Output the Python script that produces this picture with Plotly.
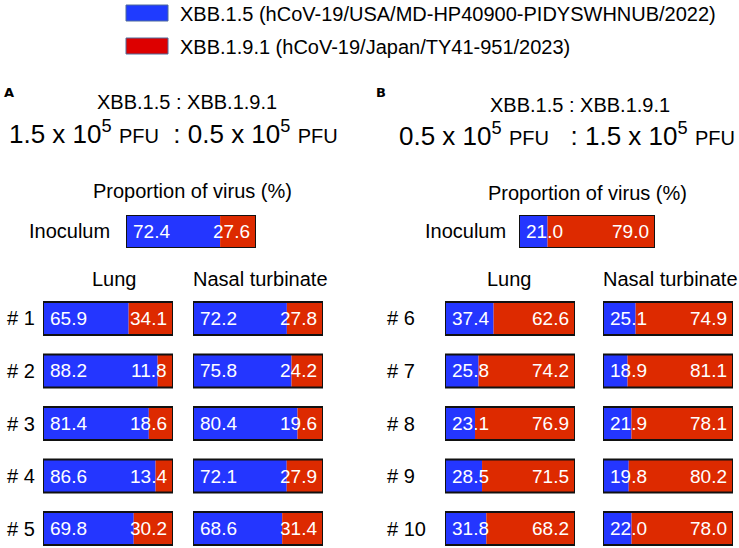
import plotly.graph_objects as go

W, H = 739, 548

# ---------------- data ----------------
rows_A = ["# 1", "# 2", "# 3", "# 4", "# 5"]
rows_B = ["# 6", "# 7", "# 8", "# 9", "# 10"]

inoc_A_xbb15 = [72.4]
inoc_A_xbb191 = [27.6]
inoc_B_xbb15 = [21.0]
inoc_B_xbb191 = [79.0]

lung_A_xbb15 = [65.9, 88.2, 81.4, 86.6, 69.8]
lung_A_xbb191 = [34.1, 11.8, 18.6, 13.4, 30.2]
nasal_A_xbb15 = [72.2, 75.8, 80.4, 72.1, 68.6]
nasal_A_xbb191 = [27.8, 24.2, 19.6, 27.9, 31.4]

lung_B_xbb15 = [37.4, 25.8, 23.1, 28.5, 31.8]
lung_B_xbb191 = [62.6, 74.2, 76.9, 71.5, 68.2]
nasal_B_xbb15 = [25.1, 18.9, 21.9, 19.8, 22.0]
nasal_B_xbb191 = [74.9, 81.1, 78.1, 80.2, 78.0]

legend_labels = ["XBB.1.5 (hCoV-19/USA/MD-HP40900-PIDYSWHNUB/2022)",
                 "XBB.1.9.1 (hCoV-19/Japan/TY41-951/2023)"]

# ---------------- style ----------------
BLUE = "#2436FF"
RED = "#DD2A00"
FONT = "Liberation Sans, Arial, sans-serif"


def px(x):
    return x / W


def py(y):
    return 1 - y / H


fig = go.Figure()
annotations = []
shapes = []

grid_yr = [4.352, -0.352]
panels = [
    (1, ["Inoculum"], inoc_A_xbb15, inoc_A_xbb191, (126, 256), (215, 248), [0.5, -0.5], 1.0),
    (2, ["Inoculum"], inoc_B_xbb15, inoc_B_xbb191, (519, 655), (215, 248), [0.5, -0.5], 1.0),
    (3, rows_A, lung_A_xbb15, lung_A_xbb191, (43, 173), (300, 547), grid_yr, 0.63),
    (4, rows_A, nasal_A_xbb15, nasal_A_xbb191, (193, 323), (300, 547), grid_yr, 0.63),
    (5, rows_B, lung_B_xbb15, lung_B_xbb191, (445, 575), (300, 547), grid_yr, 0.63),
    (6, rows_B, nasal_B_xbb15, nasal_B_xbb191, (603, 733), (300, 547), grid_yr, 0.63),
]

layout_axes = {}
for idx, cats, blue, red, (x0, x1), (y0, y1), yr, wd in panels:
    xa = f"x{idx}"
    ya = f"y{idx}"
    total = [b + r for b, r in zip(blue, red)]
    fig.add_trace(go.Bar(orientation="h", y=cats, x=blue, base=[0] * len(blue),
                         width=wd, marker=dict(color=BLUE, line=dict(width=0)),
                         xaxis=xa, yaxis=ya, showlegend=False, hoverinfo="skip"))
    fig.add_trace(go.Bar(orientation="h", y=cats, x=red, base=blue,
                         width=wd, marker=dict(color=RED, line=dict(width=0)),
                         xaxis=xa, yaxis=ya, showlegend=False, hoverinfo="skip"))
    fig.add_trace(go.Bar(orientation="h", y=cats, x=total, base=[0] * len(blue),
                         width=wd, marker=dict(color="rgba(0,0,0,0)",
                                               line=dict(width=2, color="#111111")),
                         xaxis=xa, yaxis=ya, showlegend=False, hoverinfo="skip"))
    layout_axes[f"xaxis{idx}"] = dict(domain=[px(x0), px(x1)], range=[0, 100],
                                      visible=False, anchor=ya, fixedrange=True)
    layout_axes[f"yaxis{idx}"] = dict(domain=[py(y1), py(y0)], range=yr,
                                      visible=False, anchor=xa, type="category",
                                      fixedrange=True)
    for c, b, r, t in zip(cats, blue, red, total):
        annotations.append(dict(x=0, y=c, xref=xa, yref=ya, text=f"{b:.1f}",
                                xanchor="left", yanchor="middle", xshift=5,
                                showarrow=False, font=dict(family=FONT, size=19, color="white")))
        annotations.append(dict(x=t, y=c, xref=xa, yref=ya, text=f"{r:.1f}",
                                xanchor="right", yanchor="middle", xshift=-4,
                                showarrow=False, font=dict(family=FONT, size=19, color="white")))
    if idx in (3, 5):
        lx = 5 if idx == 3 else 385
        for c in cats:
            annotations.append(dict(x=px(lx), y=c, xref="paper", yref=ya, text=c,
                                    xanchor="left", yanchor="middle", showarrow=False,
                                    font=dict(family=FONT, size=20, color="black")))


def txt(x, y, s, size=20, anchor="center", fam=FONT):
    annotations.append(dict(x=px(x), y=py(y), xref="paper", yref="paper", text=s,
                            xanchor=anchor, yanchor="middle", showarrow=False,
                            font=dict(family=fam, size=size, color="black")))


# legend
for i, (lab, col) in enumerate(zip(legend_labels, ["#1F3BFF", "#DD0000"])):
    yc = 13 + 33 * i
    shapes.append(dict(type="rect", xref="paper", yref="paper",
                       x0=px(126), x1=px(168), y0=py(yc - 8), y1=py(yc + 8),
                       fillcolor=col, line=dict(color="#4F6A9A", width=1)))
    txt(178, yc + 1, lab, size=20, anchor="left")

# panel letters
txt(2, 92, "<b>A</b>", size=13, anchor="left", fam="DejaVu Sans, Liberation Sans, sans-serif")
txt(374, 92, "<b>B</b>", size=13, anchor="left", fam="DejaVu Sans, Liberation Sans, sans-serif")

# headers
txt(187, 102, "XBB.1.5 : XBB.1.9.1")
txt(580, 105, "XBB.1.5 : XBB.1.9.1")
pfu = "<span style='font-size:20px'>PFU</span>"
txt(173, 132, f"1.5 x 10<sup>5</sup> {pfu}\u00a0\u00a0: 0.5 x 10<sup>5</sup> {pfu}", size=26)
txt(567, 134, f"0.5 x 10<sup>5</sup> {pfu}\u00a0\u00a0\u00a0: 1.5 x 10<sup>5</sup> {pfu}", size=26)

txt(192, 191, "Proportion of virus (%)")
txt(587, 193, "Proportion of virus (%)")
txt(69, 231, "Inoculum")
txt(465, 231, "Inoculum")

txt(114, 279, "Lung")
txt(260, 279, "Nasal turbinate")
txt(509, 279, "Lung")
txt(670, 279, "Nasal turbinate")

fig.update_layout(width=W, height=H, margin=dict(l=0, r=0, t=0, b=0),
                  paper_bgcolor="white", plot_bgcolor="rgba(0,0,0,0)",
                  barmode="overlay", showlegend=False,
                  annotations=annotations, shapes=shapes, **layout_axes)

fig.write_html("out.html", config={"displayModeBar": False},
               post_script="document.body.style.margin='0';document.body.style.overflow='hidden';")
